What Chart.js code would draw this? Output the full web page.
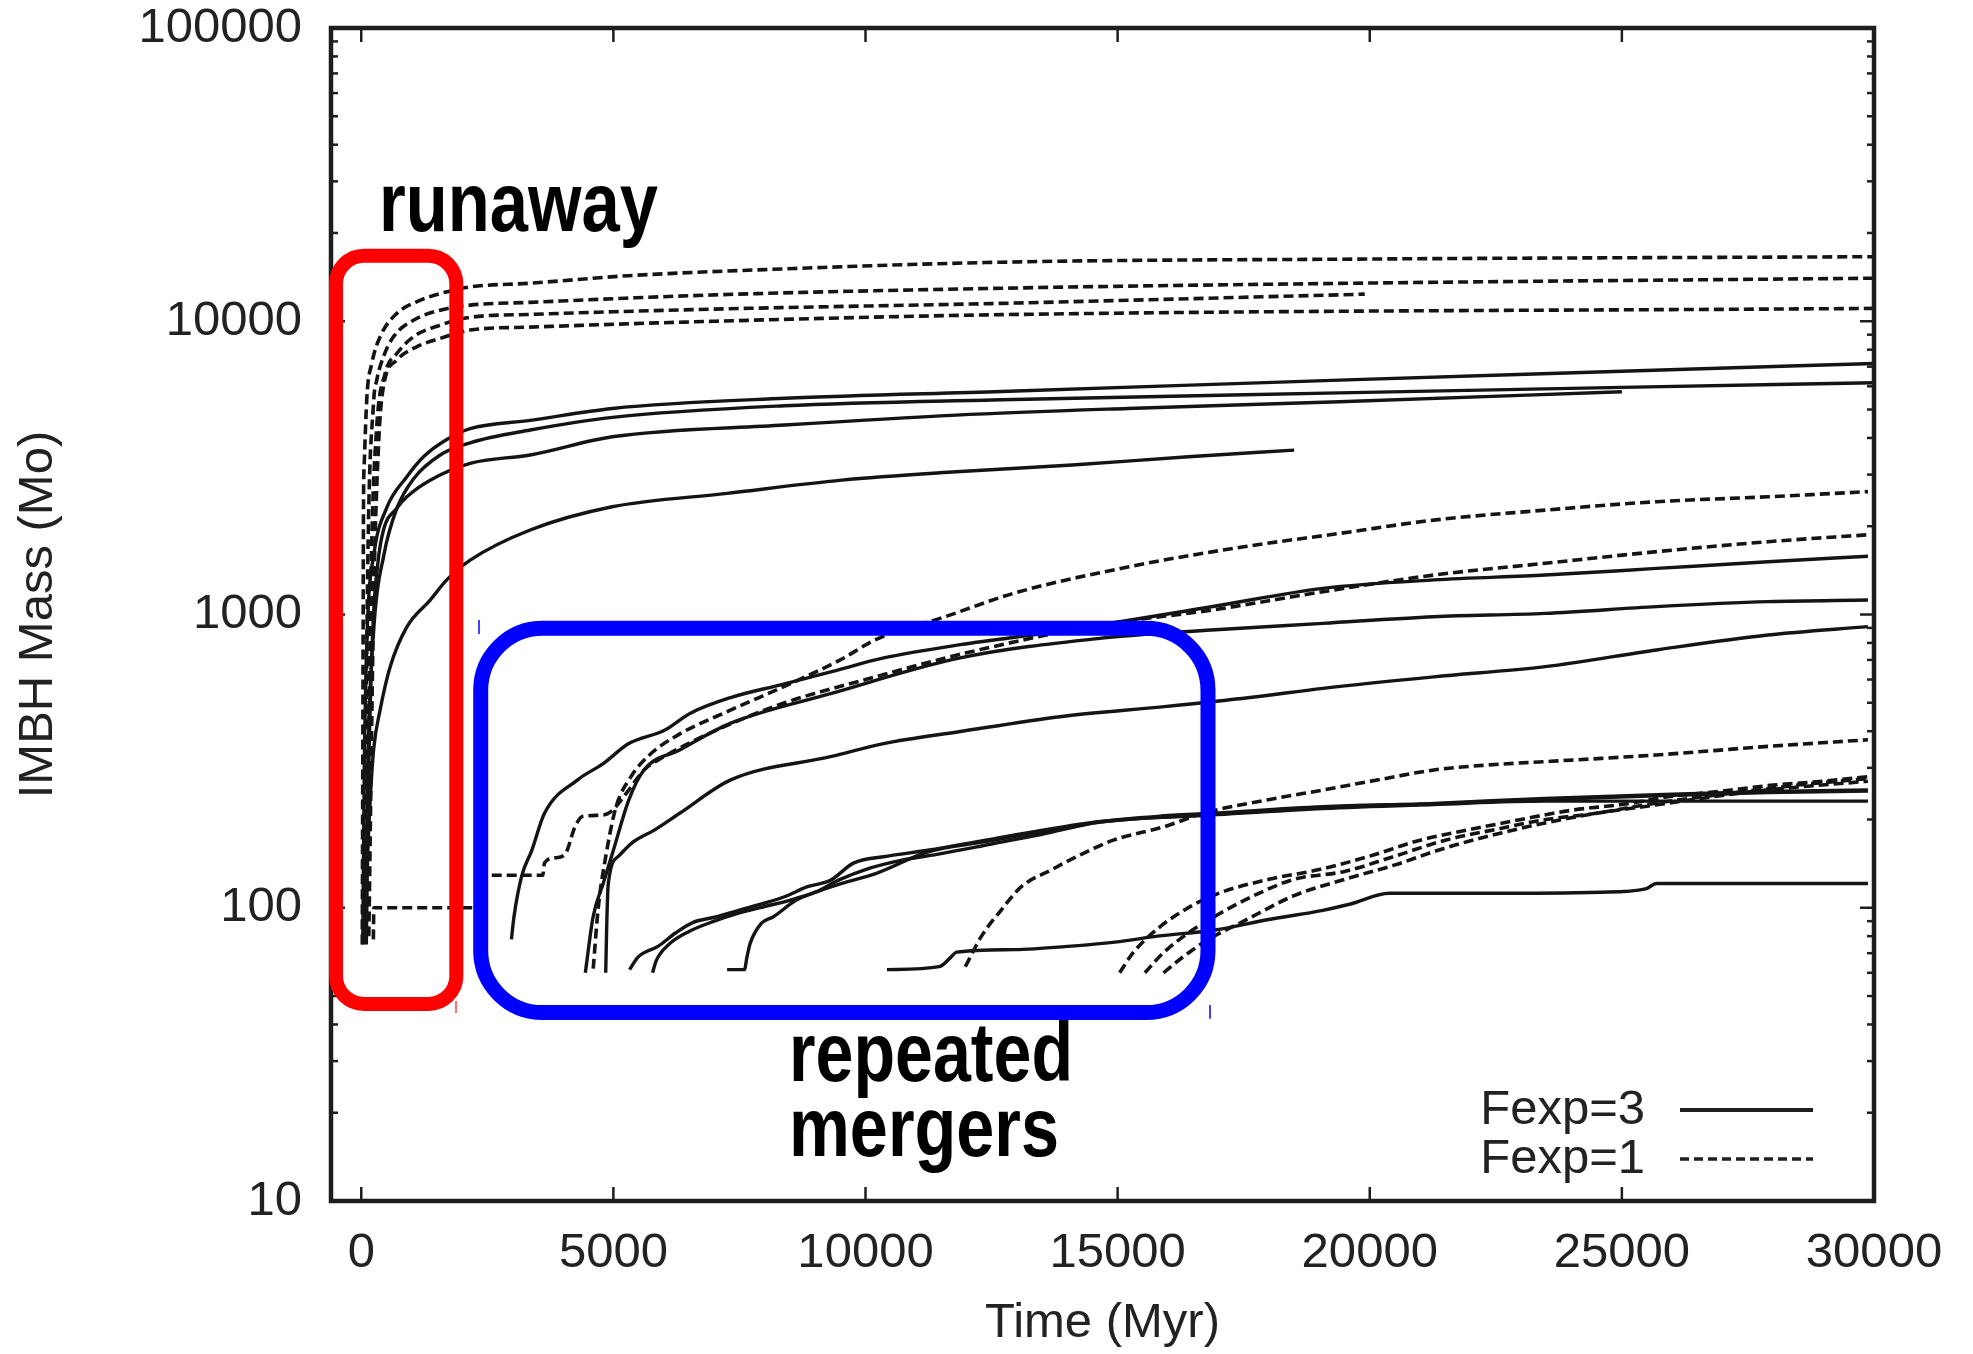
<!DOCTYPE html>
<html>
<head>
<meta charset="utf-8">
<script src="https://cdn.jsdelivr.net/npm/chart.js@4.4.1/dist/chart.umd.min.js"></script>
<style>
  html, body { margin: 0; padding: 0; background: #fff; }
  canvas { display: block; }
</style>
</head>
<body>
<canvas id="chart" width="1973" height="1354"></canvas>
<script>
/* --------------------------
   DATA  [time (Myr), IMBH mass (Mo)]
--------------------------- */
const xTicks = [0, 5000, 10000, 15000, 20000, 25000, 30000];
const yTicks = [10, 100, 1000, 10000, 100000];

// runaway, Fexp=1 (dashed)
const runD1 = [[20,75],[35,600],[45,2450],[60,3300],[112,5530],[209,7180],[374,8850],[706,10640],[1097,11650],[1566,12430],[2160,13090],[3350,13480],[5300,14300],[8000,15000],[12700,15900],[20000,16300],[30000,16600]];
const runD2 = [[60,78],[130,1500],[243,5245],[309,6310],[441,7570],[638,8850],[1035,10080],[1566,10910],[2160,11350],[3350,11600],[7000,12300],[12700,12960],[20000,13500],[30000,14020]];
const runD3 = [[100,80],[200,1500],[300,4200],[474,6640],[706,7760],[1035,8850],[1566,9700],[2160,10310],[3350,10550],[7000,11000],[12700,11510],[19900,12370]];
const runD4 = [[150,80],[250,1200],[350,4000],[441,6000],[706,7370],[1097,8180],[1566,8740],[2160,9330],[3350,9550],[7000,10000],[12700,10530],[30000,11060]];

// runaway, Fexp=3 (solid)
const runS1 = [[30,75],[60,300],[120,900],[250,1600],[500,2300],[905,2950],[1235,3450],[1696,3950],[2160,4300],[3350,4590],[4978,5043],[8393,5460],[12700,5760],[19400,6300],[25000,6750],[30000,7180]];
const runS2 = [[80,75],[130,300],[250,900],[450,1600],[706,2300],[1035,2900],[1566,3500],[2160,3850],[3350,4256],[4978,4700],[8393,5150],[12700,5400],[19400,5700],[25000,5950],[30000,6170]];
const runS3 = [[100,75],[150,300],[230,900],[330,1500],[441,1941],[700,2300],[905,2520],[1367,2871],[2160,3277],[3350,3500],[4978,4037],[8393,4426],[11800,4786],[15200,5043],[19400,5313],[25000,5750]];
const runS4 = [[45,76],[112,138],[177,233],[244,345],[374,473],[574,664],[905,908],[1367,1120],[1696,1312],[2160,1532],[3350,1941],[4978,2330],[7255,2588],[9532,2871],[11800,3066],[14100,3236],[16400,3450],[18500,3636]];

// repeated mergers, Fexp=3 (solid)
const repS1 = [[2978,78],[3028,93],[3180,128],[3382,157],[3634,210],[4292,273],[4798,310],[5305,363],[6013,403],[6518,460],[7327,521],[8338,577],[9350,640],[10362,711],[11878,789],[13900,880],[16860,1063],[19070,1228],[21270,1312],[23480,1363],[25690,1436],[27900,1513],[29880,1580]];
const repS2 = [[4444,60],[4597,93],[4798,121],[5000,157],[5305,233],[5607,295],[6315,345],[7327,426],[9326,538],[11878,711],[14640,829],[16860,885],[19070,933],[21270,983],[23480,1009],[25690,1064],[27900,1106],[29880,1120]];
const repS3 = [[4848,60],[4870,90],[4899,121],[5103,150],[5400,168],[5811,184],[6315,210],[7327,273],[9326,328],[10362,363],[11878,399],[13900,449],[15925,485],[17623,521],[19070,560],[21270,613],[23480,664],[25690,757],[27900,851],[29880,909]];
const repS4 = [[5320,61.5],[5492,68],[5890,74],[6232,82],[6573,89],[7028,93],[7482,98],[7938,103],[8393,109],[8849,118],[9305,124],[9760,142],[10442,150],[11238,157],[12378,170],[13517,184],[14655,197],[15792,205],[16860,210],[19070,221],[21270,227],[23480,236],[25690,243],[27900,249],[29880,252]];
const repS5 = [[5777,60],[5850,66],[6100,75],[6500,83],[7000,90],[7500,96],[8000,101],[8500,106],[9000,113],[9500,125],[10000,135],[10700,145],[11500,153],[12500,165],[13500,178],[14640,196],[16860,207],[19070,218],[21270,225],[23480,231],[25690,231],[27900,231],[29880,231]];
const repS6 = [[7255,61.5],[7599,61.5],[7650,68],[7713,75.6],[7938,88.6],[8167,93],[8621,106],[9077,114],[9532,121],[10215,131],[11238,155],[12378,168],[13517,182],[14655,196],[16860,208],[19070,219],[21270,226],[23480,234],[25690,241],[27900,247],[29880,250]];
const repS7 = [[10425,61.5],[11465,63],[11700,68],[11807,70.6],[12950,72],[14084,74],[14994,76.5],[15792,80],[16930,84],[17965,91],[19070,98],[19620,103],[20390,112],[22380,112],[24590,113],[25470,116],[25690,121],[29880,121]];

// repeated mergers, Fexp=1 (dashed)
const repD1 = [[240,78],[250,100],[2300,100],[2340,129],[3600,129],[3634,142],[3838,148],[4040,152],[4240,189],[4394,205],[4798,207],[5000,216],[5103,227],[5305,252],[5607,295],[6010,328],[7000,400],[8400,500],[10000,600],[12000,740],[14640,920],[16860,1035],[19070,1196],[21270,1363],[23480,1495],[25690,1638],[27900,1771],[29880,1870]];
const repD2 = [[4600,62],[4700,100],[4850,150],[5050,220],[5350,280],[5700,330],[6300,390],[7300,470],[8500,580],[9500,700],[10215,823],[11580,983],[12945,1182],[15225,1455],[17500,1702],[19400,1890],[21270,2098],[23480,2270],[25690,2425],[27900,2520],[29880,2624]];
const repD3 = [[11980,63],[12300,80],[12687,98],[13091,118],[13699,135],[14207,150],[14915,170],[15925,189],[16700,210],[17960,233],[19070,252],[20170,273],[21270,295],[22370,307],[23480,315],[25690,332],[27900,355],[29880,374]];
const repD4 = [[15040,60],[15300,70],[15800,85],[16400,100],[17000,112],[18000,125],[19000,135],[20000,150],[21000,170],[22000,185],[23000,200],[24000,215],[25000,225],[26000,240],[27000,250],[28000,262],[29000,270],[29880,280]];
const repD5 = [[15540,60],[15900,70],[16400,82],[17000,95],[17800,112],[18500,125],[19500,133],[20500,150],[21500,170],[22500,185],[23500,200],[24500,210],[25500,225],[26500,238],[27500,250],[28500,262],[29880,276]];
const repD6 = [[15910,60],[16300,68],[16800,78],[17500,90],[18500,110],[19500,125],[20500,140],[21500,160],[22500,178],[23500,195],[24500,210],[25500,222],[26500,235],[27500,248],[28500,258],[29880,270]];

const solidRuns  = [runS1, runS2, runS3, runS4, repS1, repS2, repS3, repS4, repS5, repS6, repS7];
const dashedRuns = [runD1, runD2, runD3, runD4, repD1, repD2, repD3, repD4, repD5, repD6];

const legendLabels = ['Fexp=3', 'Fexp=1'];

// highlight boxes, in data units [tMin, tMax, mMin, mMax]
const runawayBox = [-501, 1885, 47, 16725];
const mergersBox = [2369, 16792, 43.9, 897];

/* --------------------------
   STYLE
--------------------------- */
const ink = '#141414';
const labelFont = { family: '"Liberation Sans", Arial, sans-serif', size: 49, lineHeight: 1 };

function makeSet(points, dashed, i) {
    return {
        label: (dashed ? 'Fexp=1 #' : 'Fexp=3 #') + i,
        data: points.map(p => ({ x: p[0], y: p[1] })),
        borderColor: ink,
        borderWidth: dashed ? 3.6 : 3.4,
        borderDash: dashed ? [10, 5] : [],
        pointRadius: 0,
        fill: false,
        cubicInterpolationMode: 'monotone'
    };
}

const datasets = [
    ...solidRuns.map((d, i) => makeSet(d, false, i)),
    ...dashedRuns.map((d, i) => makeSet(d, true, i))
];

/* --------------------------
   GNUPLOT FRAME, BOXES, KEY
--------------------------- */
const framePlugin = {
    id: 'gnuplotFrame',
    afterDatasetsDraw(chart) {
        const { ctx, chartArea: a, scales: { x, y } } = chart;
        const seg = (x1, y1, x2, y2) => { ctx.beginPath(); ctx.moveTo(x1, y1); ctx.lineTo(x2, y2); ctx.stroke(); };
        ctx.save();
        ctx.setLineDash([]);
        ctx.strokeStyle = '#1e1e1e';
        ctx.lineCap = 'butt';

        // ticks inside
        ctx.lineWidth = 2.5;
        xTicks.forEach(v => {
            const px = x.getPixelForValue(v);
            seg(px, a.bottom, px, a.bottom - 14);
            seg(px, a.top, px, a.top + 14);
        });
        yTicks.forEach(v => {
            const py = y.getPixelForValue(v);
            seg(a.left, py, a.left + 14, py);
            seg(a.right, py, a.right - 14, py);
            if (v < 100000) {
                for (let k = 2; k <= 9; k++) {
                    const pm = y.getPixelForValue(v * k);
                    seg(a.left, pm, a.left + 7, pm);
                    seg(a.right, pm, a.right - 7, pm);
                }
            }
        });

        // frame
        ctx.lineWidth = 4.5;
        ctx.strokeRect(a.left, a.top, a.right - a.left, a.bottom - a.top);

        // key
        ctx.font = '49px "Liberation Sans", Arial, sans-serif';
        ctx.fillStyle = '#222';
        ctx.textAlign = 'right';
        ctx.textBaseline = 'middle';
        const rows = [a.bottom - 91, a.bottom - 42];
        legendLabels.forEach((txt, i) => {
            ctx.fillText(txt, a.right - 229, rows[i]);
            ctx.lineWidth = i === 0 ? 4 : 3.5;
            ctx.setLineDash(i === 0 ? [] : [9, 5]);
            seg(a.right - 194, rows[i], a.right - 61, rows[i]);
        });
        ctx.setLineDash([]);

        // highlight boxes
        const roundBox = (b, color, lw, r) => {
            const l = x.getPixelForValue(b[0]), rr = x.getPixelForValue(b[1]);
            const t = y.getPixelForValue(b[3]), bt = y.getPixelForValue(b[2]);
            ctx.strokeStyle = color;
            ctx.lineWidth = lw;
            ctx.beginPath();
            ctx.roundRect(l, t, rr - l, bt - t, r);
            ctx.stroke();
        };
        roundBox(runawayBox, '#ff0000', 14, 28);
        roundBox(mergersBox, '#0000ff', 15, 62);

        // small stray marks left by the box drawing
        ctx.lineWidth = 1.5;
        ctx.strokeStyle = '#0000ff';
        seg(x.getPixelForValue(2335), y.getPixelForValue(958), x.getPixelForValue(2335), y.getPixelForValue(858));
        seg(x.getPixelForValue(16832), y.getPixelForValue(46.6), x.getPixelForValue(16832), y.getPixelForValue(41.8));
        ctx.strokeStyle = '#ff4040';
        seg(x.getPixelForValue(1879), y.getPixelForValue(48.1), x.getPixelForValue(1879), y.getPixelForValue(43.8));

        // labels
        const bold = (txt, t, m, w) => {
            ctx.font = 'bold 84px "Liberation Sans Narrow", "Liberation Sans", Arial, sans-serif';
            const mw = ctx.measureText(txt).width;
            ctx.save();
            ctx.translate(x.getPixelForValue(t), y.getPixelForValue(m));
            ctx.scale(w / mw, 1);
            ctx.fillStyle = '#000';
            ctx.textAlign = 'left';
            ctx.textBaseline = 'alphabetic';
            ctx.fillText(txt, 0, 0);
            ctx.restore();
        };
        bold('runaway', 352, 20320, 279);
        bold('repeated', 8483, 25.6, 284);
        bold('mergers', 8483, 14.2, 270);

        ctx.restore();
    }
};

/* --------------------------
   CHART
--------------------------- */
const ctx = document.getElementById('chart').getContext('2d');

const chart = new Chart(ctx, {
    type: 'line',
    data: { datasets },
    options: {
        responsive: false,
        animation: false,
        devicePixelRatio: 1,
        layout: { padding: { top: 28, right: 99, bottom: 0, left: 0 } },
        plugins: {
            legend: { display: false },
            tooltip: { enabled: false }
        },
        scales: {
            x: {
                type: 'linear',
                min: -600,
                max: 30000,
                grid: { display: false, drawTicks: false },
                border: { display: false },
                afterBuildTicks: s => { s.ticks = xTicks.map(v => ({ value: v })); },
                afterFit: s => { s.height = 153; s.paddingLeft = 3; s.paddingRight = 70; },
                ticks: {
                    color: '#222',
                    font: labelFont,
                    padding: 28,
                    maxRotation: 0,
                    autoSkip: false,
                    callback: v => String(v)
                },
                title: {
                    display: true,
                    text: 'Time (Myr)',
                    color: '#222',
                    font: labelFont,
                    padding: { top: 0, bottom: 6 }
                }
            },
            y: {
                type: 'logarithmic',
                min: 10,
                max: 100000,
                grid: { display: false, drawTicks: false },
                border: { display: false },
                afterBuildTicks: s => { s.ticks = yTicks.map(v => ({ value: v })); },
                afterFit: s => { s.width = 331; s.paddingTop = 20; s.paddingBottom = 20; },
                ticks: {
                    color: '#222',
                    font: labelFont,
                    padding: 29,
                    autoSkip: false,
                    callback: v => String(v)
                },
                title: {
                    display: true,
                    text: 'IMBH Mass (Mo)',
                    color: '#222',
                    font: labelFont,
                    padding: { top: 14, bottom: 0 }
                }
            }
        }
    },
    plugins: [framePlugin]
});
</script>
</body>
</html>
